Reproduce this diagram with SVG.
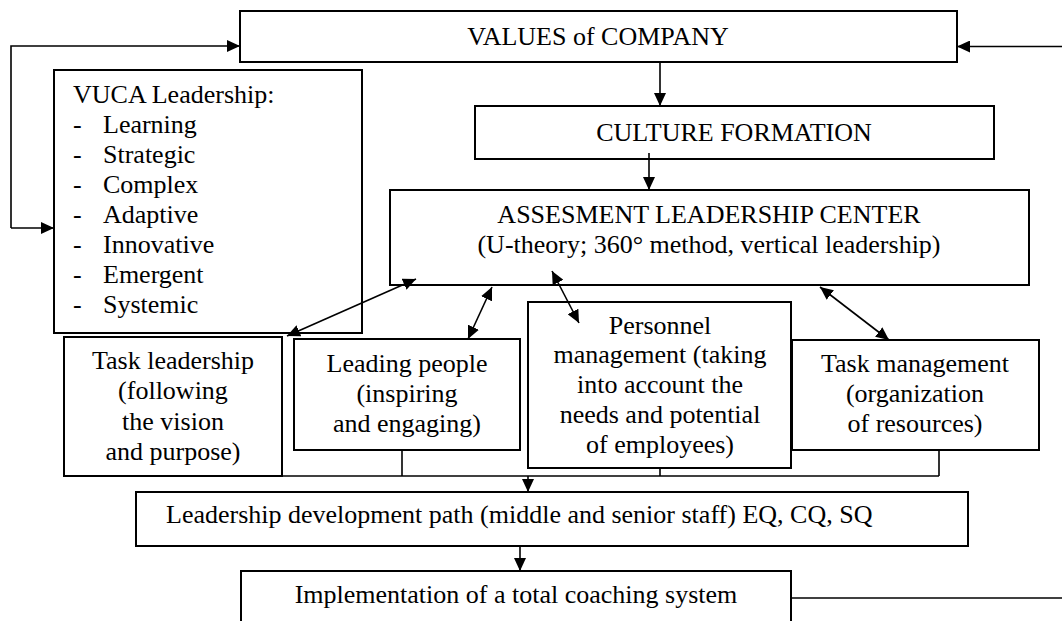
<svg xmlns="http://www.w3.org/2000/svg" width="1062" height="621" viewBox="0 0 1062 621">
  <style>
    .box { fill: #ffffff; stroke: #000000; stroke-width: 2; }
    .t { font-family: "Liberation Serif", "Times New Roman", serif; font-size: 26px; fill: #000000; }
    .c { text-anchor: middle; }
    .ln { fill: none; stroke: #000000; stroke-width: 1.6; }
  </style>
  <defs>
    <marker id="ah" markerUnits="userSpaceOnUse" markerWidth="14" markerHeight="12" refX="13" refY="6" orient="auto-start-reverse">
      <path d="M0,0 L13,6 L0,12 Z" fill="#000000"/>
    </marker>
  </defs>

  <rect width="1062" height="621" fill="#ffffff"/>

  <g id="values">
    <rect class="box" x="240" y="11" width="717" height="51"/>
    <text class="t c" x="598" y="45">VALUES of COMPANY</text>
  </g>

  <g id="vuca">
    <rect class="box" x="54" y="70" width="308" height="263"/>
    <text class="t" x="73" y="103">VUCA Leadership:</text>
    <g class="t">
      <text x="73" y="133">-</text><text x="103" y="133">Learning</text>
      <text x="73" y="163">-</text><text x="103" y="163">Strategic</text>
      <text x="73" y="193">-</text><text x="103" y="193">Complex</text>
      <text x="73" y="223">-</text><text x="103" y="223">Adaptive</text>
      <text x="73" y="253">-</text><text x="103" y="253">Innovative</text>
      <text x="73" y="283">-</text><text x="103" y="283">Emergent</text>
      <text x="73" y="313">-</text><text x="103" y="313">Systemic</text>
    </g>
  </g>

  <g id="culture">
    <rect class="box" x="475" y="106" width="519" height="53"/>
    <text class="t c" x="734" y="141">CULTURE FORMATION</text>
  </g>

  <g id="assessment">
    <rect class="box" x="390" y="190" width="639" height="95"/>
    <text class="t c" x="709" y="223">ASSESMENT LEADERSHIP CENTER</text>
    <text class="t c" x="709" y="253">(U-theory; 360° method, vertical leadership)</text>
  </g>

  <g id="task-leadership">
    <rect class="box" x="64" y="337" width="218" height="139"/>
    <text class="t c" x="173" y="369">Task leadership</text>
    <text class="t c" x="173" y="399">(following</text>
    <text class="t c" x="173" y="430">the vision</text>
    <text class="t c" x="173" y="460">and purpose)</text>
  </g>

  <g id="leading-people">
    <rect class="box" x="294" y="339" width="226" height="111"/>
    <text class="t c" x="407" y="372">Leading people</text>
    <text class="t c" x="407" y="402">(inspiring</text>
    <text class="t c" x="407" y="432">and engaging)</text>
  </g>

  <g id="personnel">
    <rect class="box" x="528" y="302" width="263" height="166"/>
    <text class="t c" x="660" y="334">Personnel</text>
    <text class="t c" x="660" y="363">management (taking</text>
    <text class="t c" x="660" y="393">into account the</text>
    <text class="t c" x="660" y="423">needs and potential</text>
    <text class="t c" x="660" y="453">of employees)</text>
  </g>

  <g id="task-management">
    <rect class="box" x="792" y="340" width="247" height="110"/>
    <text class="t c" x="915" y="372">Task management</text>
    <text class="t c" x="915" y="402">(organization</text>
    <text class="t c" x="915" y="432">of resources)</text>
  </g>

  <g id="development-path">
    <rect class="box" x="136" y="492" width="832" height="54"/>
    <text class="t" x="166" y="523">Leadership development path (middle and senior staff) EQ, CQ, SQ</text>
  </g>

  <g id="coaching">
    <rect class="box" x="241" y="571" width="550" height="60"/>
    <text class="t c" x="516" y="603">Implementation of a total coaching system</text>
  </g>

  <g id="connectors">
    <!-- feedback loop on the left -->
    <polyline class="ln" points="11,228 11,46 240,46" marker-end="url(#ah)"/>
    <line class="ln" x1="11" y1="228" x2="54" y2="228" marker-end="url(#ah)"/>
    <!-- return line on the right -->
    <line class="ln" x1="1062" y1="46.5" x2="957" y2="46.5" marker-end="url(#ah)"/>
    <line class="ln" x1="791" y1="598" x2="1062" y2="598"/>
    <!-- main vertical flow -->
    <line class="ln" x1="660" y1="62" x2="660" y2="106" marker-end="url(#ah)"/>
    <line class="ln" x1="649" y1="153" x2="649" y2="190" marker-end="url(#ah)"/>
    <!-- two-way links with the assessment center -->
    <line class="ln" x1="287" y1="336" x2="416" y2="279" marker-start="url(#ah)" marker-end="url(#ah)"/>
    <line class="ln" x1="468" y1="339" x2="492" y2="287" marker-start="url(#ah)" marker-end="url(#ah)"/>
    <line class="ln" x1="552" y1="271" x2="579" y2="323" marker-start="url(#ah)" marker-end="url(#ah)"/>
    <line class="ln" x1="820" y1="287" x2="889" y2="340" marker-start="url(#ah)" marker-end="url(#ah)"/>
    <!-- collector bar under the four activity boxes -->
    <line class="ln" x1="282" y1="476" x2="939" y2="476"/>
    <line class="ln" x1="402" y1="450" x2="402" y2="476"/>
    <line class="ln" x1="660" y1="468" x2="660" y2="476"/>
    <line class="ln" x1="939" y1="450" x2="939" y2="476"/>
    <line class="ln" x1="528" y1="476" x2="528" y2="492" marker-end="url(#ah)"/>
    <line class="ln" x1="520" y1="546" x2="520" y2="571" marker-end="url(#ah)"/>
  </g>
</svg>
